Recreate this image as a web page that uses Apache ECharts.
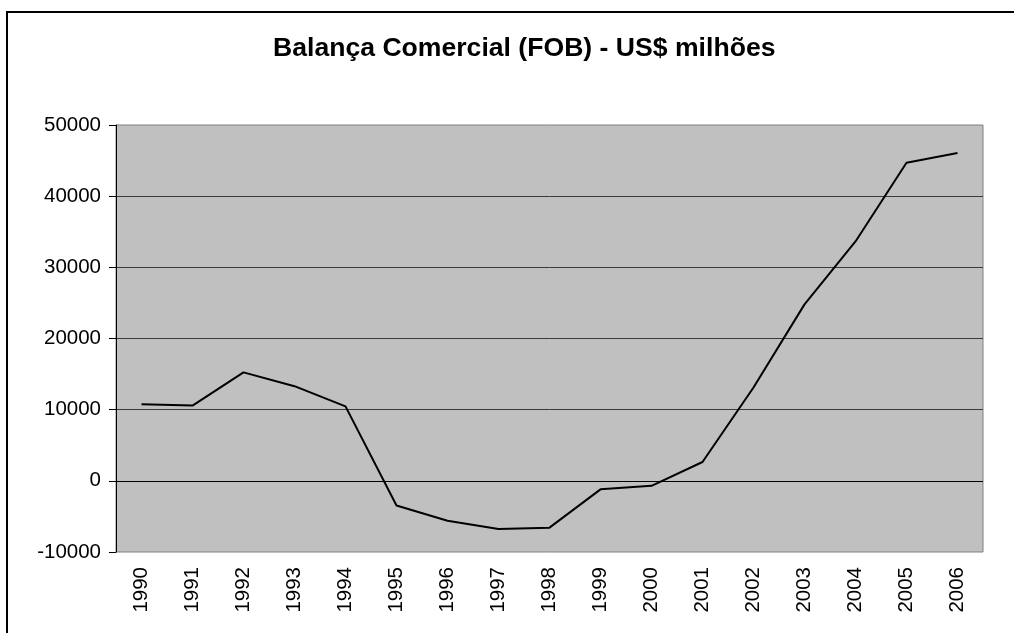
<!DOCTYPE html>
<html>
<head>
<meta charset="utf-8">
<title>Balança Comercial (FOB)</title>
<script src="https://cdn.jsdelivr.net/npm/echarts@6/dist/echarts.min.js"></script>
<style>
  html, body { margin: 0; padding: 0; background: #fff; }
  #chart { width: 1014px; height: 633px; }
</style>
</head>
<body>
<div id="chart"></div>
<script>
// Saldo da balança comercial brasileira (FOB), em US$ milhões
const years = ['1990', '1991', '1992', '1993', '1994', '1995', '1996', '1997', '1998',
               '1999', '2000', '2001', '2002', '2003', '2004', '2005', '2006'];
const saldo = [10752, 10580, 15239, 13299, 10466, -3466, -5599, -6753, -6575,
               -1199, -698, 2650, 13121, 24794, 33641, 44703, 46074];
const yTicks = { min: -10000, max: 50000, step: 10000 };

const font = "'Liberation Sans', Arial, sans-serif";
const chart = echarts.init(document.getElementById('chart'), null, { renderer: 'canvas' });

chart.setOption({
  animation: false,
  backgroundColor: '#ffffff',
  title: {
    text: 'Balança Comercial (FOB) - US$ milhões',
    left: 268,
    top: 30,
    textStyle: { fontFamily: font, fontSize: 26.6, fontWeight: 'bold', color: '#000' }
  },
  graphic: [{
    type: 'rect',
    shape: { x: 7, y: 12, width: 1030, height: 700 },
    style: { fill: 'none', stroke: '#000', lineWidth: 2 },
    silent: true
  }],
  grid: {
    left: 116, top: 125, width: 867, height: 427,
    show: true,
    backgroundColor: '#c0c0c0',
    borderColor: '#808080',
    borderWidth: 1
  },
  xAxis: {
    type: 'category',
    data: years,
    boundaryGap: true,
    axisLine: { show: false },
    axisTick: { show: false },
    axisLabel: {
      rotate: 90,
      margin: 15,
      fontFamily: font,
      fontSize: 20.5,
      color: '#000'
    },
    splitLine: { show: false }
  },
  yAxis: {
    type: 'value',
    min: yTicks.min,
    max: yTicks.max,
    interval: yTicks.step,
    axisLine: { show: true, lineStyle: { color: '#000', width: 1 } },
    axisTick: { show: true, length: 7, lineStyle: { color: '#000' } },
    axisLabel: {
      margin: 15,
      fontFamily: font,
      fontSize: 20.5,
      color: '#000',
      formatter: (v) => String(v)
    },
    splitLine: {
      show: true,
      showMinLine: false,
      showMaxLine: false,
      lineStyle: { color: '#3a3a3a', width: 1 }
    }
  },
  series: [{
    type: 'line',
    data: saldo,
    symbol: 'none',
    lineStyle: { color: '#000', width: 2 },
    markLine: {
      silent: true,
      symbol: 'none',
      label: { show: false },
      lineStyle: { color: '#000', width: 1, type: 'solid' },
      data: [{ yAxis: 0 }]
    }
  }]
});
</script>
</body>
</html>
